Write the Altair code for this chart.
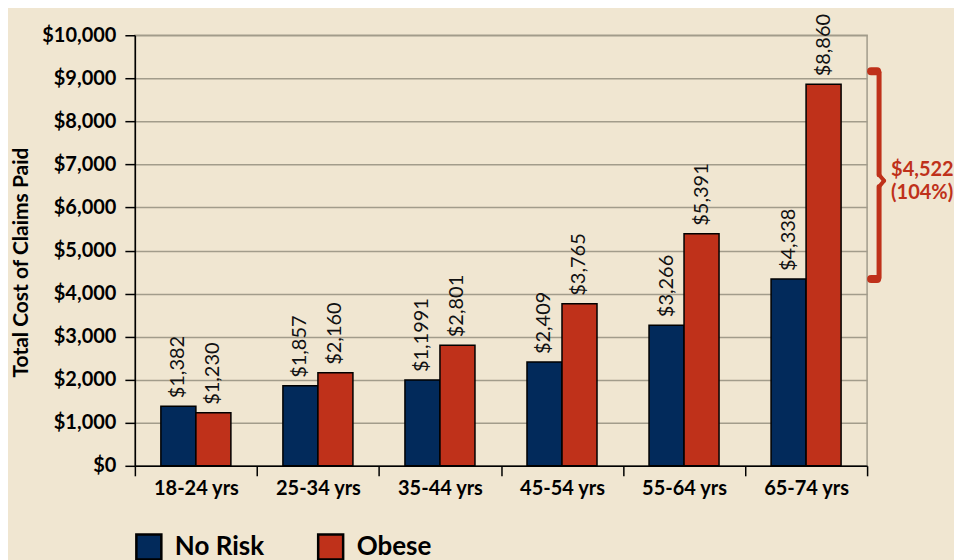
import altair as alt
import pandas as pd

ages = ["18-24 yrs", "25-34 yrs", "35-44 yrs", "45-54 yrs", "55-64 yrs", "65-74 yrs"]
groups = ["No Risk", "Obese"]
no_risk = [1382, 1857, 1991, 2409, 3266, 4338]
obese = [1230, 2160, 2801, 3765, 5391, 8860]
no_risk_labels = ["$1,382", "$1,857", "$1,1991", "$2,409", "$3,266", "$4,338"]
obese_labels = ["$1,230", "$2,160", "$2,801", "$3,765", "$5,391", "$8,860"]
y_ticks = [0, 1000, 2000, 3000, 4000, 5000, 6000, 7000, 8000, 9000, 10000]
diff_label = ["$4,522", "(104%)"]

NAVY = "#022A5B"
RED = "#BF311A"
BG = "#F0E6D1"
GRID = "#A29C8B"
FONT = "Lato"

rows = []
for a, v, l in zip(ages, no_risk, no_risk_labels):
    rows.append({"age": a, "group": "No Risk", "value": v, "label": l})
for a, v, l in zip(ages, obese, obese_labels):
    rows.append({"age": a, "group": "Obese", "value": v, "label": l})
df = pd.DataFrame(rows)

W, H = 733, 431

x_enc = alt.X(
    "age:N", sort=ages, title=None,
    scale=alt.Scale(paddingInner=0, paddingOuter=0),
    axis=alt.Axis(labelAngle=0, tickBand="extent", tickSize=10, tickColor="black",
                  tickWidth=1.5, domainColor="black", domainWidth=1.5,
                  labelFont=FONT, labelFontSize=20, labelFontWeight="bold",
                  labelColor="black", labelPadding=3, grid=False),
)
xo_enc = alt.XOffset("group:N", sort=groups,
                     scale=alt.Scale(paddingInner=0, paddingOuter=0.743))
y_enc = alt.Y(
    "value:Q", title="Total Cost of Claims Paid",
    scale=alt.Scale(domain=[0, 10000], nice=False),
    axis=alt.Axis(values=y_ticks, format="$,d", tickSize=10, tickColor="black",
                  tickWidth=1.5, domainColor="black", domainWidth=1.5,
                  gridColor=GRID, gridWidth=1.5, labelFont=FONT, labelFontSize=20,
                  labelFontWeight="bold", labelColor="black", labelPadding=9,
                  titleFont=FONT, titleFontSize=21, titleFontWeight="bold",
                  titleColor="black", titleX=-103, titleY=227),
)

bars = alt.Chart(df).mark_bar(stroke="black", strokeWidth=1.5).encode(
    x=x_enc, xOffset=xo_enc, y=y_enc,
    color=alt.Color("group:N", scale=alt.Scale(domain=groups, range=[NAVY, RED]),
                    legend=alt.Legend(orient="none", legendX=0, legendY=498,
                                      direction="horizontal", title=None,
                                      symbolType="square", symbolSize=625,
                                      symbolStrokeColor="black", symbolStrokeWidth=2.5,
                                      symbolOpacity=1,
                                      labelFont=FONT, labelFontSize=26,
                                      labelFontWeight="bold", labelColor="black",
                                      columnPadding=48, labelOffset=12)),
)

texts = alt.Chart(df).mark_text(angle=270, align="left", baseline="middle", dx=8,
                                font=FONT, fontSize=20, fontWeight="normal",
                                color="#111111").encode(
    x=alt.X("age:N", sort=ages), xOffset=alt.XOffset("group:N", sort=groups),
    y="value:Q", text="label:N",
)

hi = obese[-1]
lo = no_risk[-1]
mid = (hi + lo) / 2
seg = alt.Chart(pd.DataFrame({"d": [0]}))

top_tip = seg.mark_rule(color=RED, strokeWidth=8, strokeCap="round", yOffset=-13).encode(
    y=alt.datum(hi), x=alt.value(W + 4), x2=alt.value(W + 10))
bot_tip = seg.mark_rule(color=RED, strokeWidth=8, strokeCap="round", yOffset=0).encode(
    y=alt.datum(lo), x=alt.value(W + 4), x2=alt.value(W + 10))
upper = seg.mark_rule(color=RED, strokeWidth=5, strokeCap="round", yOffset=-12, y2Offset=-7).encode(
    y=alt.datum(hi), y2=alt.datum(mid), x=alt.value(W + 12))
lower = seg.mark_rule(color=RED, strokeWidth=5, strokeCap="round", yOffset=5, y2Offset=-1).encode(
    y=alt.datum(mid), y2=alt.datum(lo), x=alt.value(W + 12))
pt1 = seg.mark_rule(color=RED, strokeWidth=4, strokeCap="round", yOffset=-7, y2Offset=-1).encode(
    y=alt.datum(mid), y2=alt.datum(mid), x=alt.value(W + 12), x2=alt.value(W + 17))
pt2 = seg.mark_rule(color=RED, strokeWidth=4, strokeCap="round", yOffset=5, y2Offset=-1).encode(
    y=alt.datum(mid), y2=alt.datum(mid), x=alt.value(W + 12), x2=alt.value(W + 17))

ann = seg.mark_text(align="left", baseline="middle", font=FONT, fontSize=20,
                    fontWeight="bold", color=RED, lineHeight=23, dy=-12).encode(
    x=alt.value(W + 24), y=alt.datum(mid), text=alt.value(diff_label))

chart = alt.layer(bars, texts, top_tip, bot_tip, upper, lower, pt1, pt2, ann).properties(
    width=W, height=H,
    autosize=alt.AutoSizeParams(type="none"),
    padding={"left": 127, "top": 27, "right": 87, "bottom": 94},
    background=BG,
).configure_view(stroke=GRID, strokeWidth=1.5)

chart.save("out.html", embed_options={"renderer": "svg", "actions": False})
